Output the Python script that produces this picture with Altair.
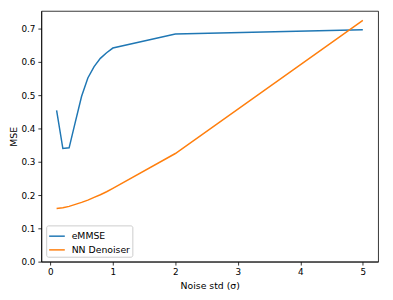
import altair as alt
import pandas as pd

# Data
sigma = [0.1, 0.2, 0.3, 0.4, 0.5, 0.6, 0.7, 0.8, 0.9, 1.0, 2.0, 5.0]
emmse = [0.455, 0.340, 0.342, 0.420, 0.497, 0.552, 0.586, 0.611, 0.628, 0.642, 0.684, 0.697]
nn_denoiser = [0.160, 0.162, 0.166, 0.172, 0.178, 0.185, 0.193, 0.201, 0.210, 0.220, 0.325, 0.725]
series_names = ["eMMSE", "NN Denoiser"]
series_colors = ["#1f77b4", "#ff7f0e"]

rows = []
for i, s in enumerate(sigma):
    rows.append({"sigma": s, "mse": emmse[i], "series": series_names[0], "order": i})
for i, s in enumerate(sigma):
    rows.append({"sigma": s, "mse": nn_denoiser[i], "series": series_names[1], "order": i})
df = pd.DataFrame(rows)

FONT = "DejaVu Sans"

chart = alt.Chart(df).mark_line(strokeWidth=1.5, clip=True).encode(
    x=alt.X("sigma:Q", title="Noise std (σ)",
            scale=alt.Scale(domain=[-0.145, 5.245], nice=False, zero=False),
            axis=alt.Axis(values=[0, 1, 2, 3, 4, 5], format="d")),
    y=alt.Y("mse:Q", title="MSE",
            scale=alt.Scale(domain=[0, 0.7535], nice=False),
            axis=alt.Axis(values=[0, 0.1, 0.2, 0.3, 0.4, 0.5, 0.6, 0.7], format=".1f")),
    color=alt.Color("series:N", scale=alt.Scale(domain=series_names, range=series_colors),
                    legend=alt.Legend(title=None, orient="bottom-left", offset=5,
                                      symbolType="stroke", symbolSize=256,
                                      symbolStrokeWidth=1.5, labelOffset=6,
                                      labelFontSize=9.5, labelFont=FONT, labelColor="black",
                                      rowPadding=-1, padding=2,
                                      strokeColor="#cccccc", fillColor="white",
                                      cornerRadius=2)),
    order="order:Q",
).properties(
    width=344, height=256,
    autosize=alt.AutoSizeParams(type="none"),
    padding={"left": 34, "top": 0, "right": 7, "bottom": 28},
).configure_view(
    stroke="black", strokeWidth=0.8
).configure_axis(
    grid=False, domainColor="black", domainWidth=0.8,
    tickColor="black", tickWidth=0.8, tickSize=3.5,
    labelFont=FONT, labelFontSize=9, labelColor="black", labelPadding=3,
    titleFont=FONT, titleFontSize=9.5, titleFontWeight="normal", titleColor="black",
).configure_axisY(
    titlePadding=2
).configure_axisX(
    titlePadding=4
)

chart.save("out.html", embed_options={"renderer": "svg", "actions": False})
